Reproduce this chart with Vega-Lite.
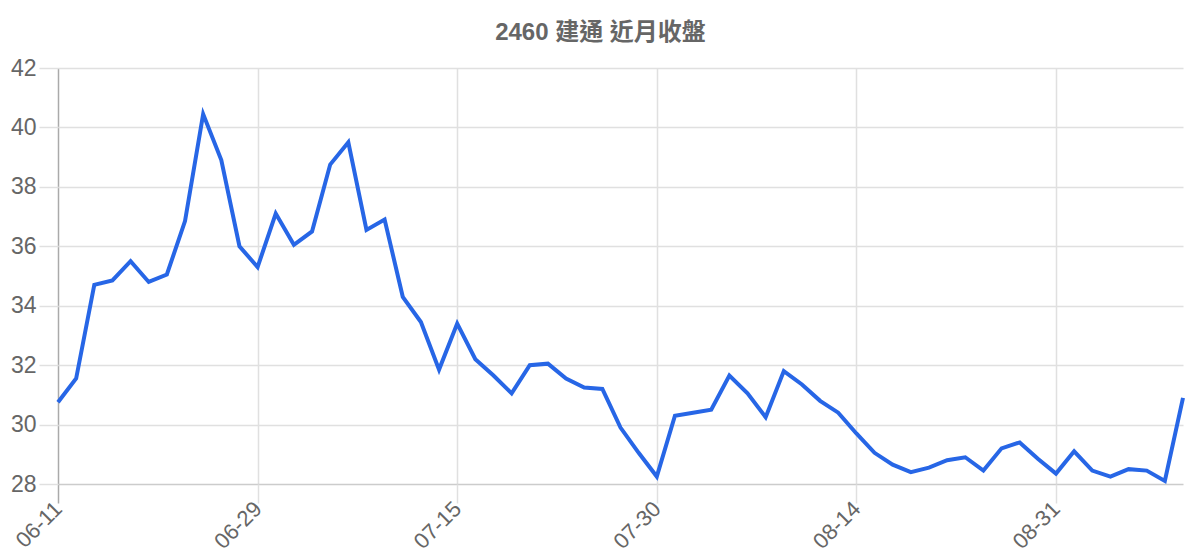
{
  "$schema": "https://vega.github.io/schema/vega-lite/v6.json",
  "autosize": "none",
  "width": 1125,
  "height": 416,
  "padding": {"left": 58, "top": 68, "right": 17, "bottom": 76},
  "background": "white",
  "title": {
    "text": "2460 建通 近月收盤",
    "font": "Liberation Sans, Noto Sans CJK TC",
    "fontSize": 24,
    "fontWeight": "bold",
    "color": "#666666",
    "anchor": "middle",
    "dx": -20,
    "offset": 12
  },
  "config": {
    "view": {"stroke": null},
    "font": "Liberation Sans, Noto Sans CJK TC"
  },
  "data": {
    "values": [
      {"date": "06-11", "close": 30.75},
      {"date": "06-12", "close": 31.55},
      {"date": "06-13", "close": 34.7},
      {"date": "06-14", "close": 34.85},
      {"date": "06-17", "close": 35.5},
      {"date": "06-18", "close": 34.8},
      {"date": "06-19", "close": 35.05},
      {"date": "06-20", "close": 36.85},
      {"date": "06-21", "close": 40.45},
      {"date": "06-24", "close": 38.9},
      {"date": "06-26", "close": 36.0},
      {"date": "06-29", "close": 35.3},
      {"date": "07-01", "close": 37.1},
      {"date": "07-02", "close": 36.05},
      {"date": "07-03", "close": 36.5},
      {"date": "07-04", "close": 38.75},
      {"date": "07-05", "close": 39.5},
      {"date": "07-08", "close": 36.55},
      {"date": "07-09", "close": 36.9},
      {"date": "07-10", "close": 34.3},
      {"date": "07-11", "close": 33.45},
      {"date": "07-12", "close": 31.85},
      {"date": "07-15", "close": 33.4},
      {"date": "07-16", "close": 32.2},
      {"date": "07-17", "close": 31.65},
      {"date": "07-18", "close": 31.05},
      {"date": "07-19", "close": 32.0},
      {"date": "07-22", "close": 32.05},
      {"date": "07-23", "close": 31.55},
      {"date": "07-24", "close": 31.25},
      {"date": "07-25", "close": 31.2},
      {"date": "07-26", "close": 29.9},
      {"date": "07-29", "close": 29.05},
      {"date": "07-30", "close": 28.25},
      {"date": "07-31", "close": 30.3},
      {"date": "08-01", "close": 30.4},
      {"date": "08-02", "close": 30.5},
      {"date": "08-05", "close": 31.65},
      {"date": "08-06", "close": 31.05},
      {"date": "08-07", "close": 30.25},
      {"date": "08-08", "close": 31.8},
      {"date": "08-09", "close": 31.35},
      {"date": "08-12", "close": 30.8},
      {"date": "08-13", "close": 30.4},
      {"date": "08-14", "close": 29.7},
      {"date": "08-15", "close": 29.05},
      {"date": "08-16", "close": 28.65},
      {"date": "08-19", "close": 28.4},
      {"date": "08-20", "close": 28.55},
      {"date": "08-21", "close": 28.8},
      {"date": "08-22", "close": 28.9},
      {"date": "08-23", "close": 28.45},
      {"date": "08-26", "close": 29.2},
      {"date": "08-27", "close": 29.4},
      {"date": "08-29", "close": 28.85},
      {"date": "08-31", "close": 28.35},
      {"date": "09-02", "close": 29.1},
      {"date": "09-03", "close": 28.45},
      {"date": "09-04", "close": 28.25},
      {"date": "09-05", "close": 28.5},
      {"date": "09-06", "close": 28.45},
      {"date": "09-09", "close": 28.1},
      {"date": "09-10", "close": 30.9}
    ]
  },
  "mark": {"type": "line", "color": "#2766e6", "strokeWidth": 4, "strokeJoin": "miter"},
  "encoding": {
    "x": {
      "field": "date",
      "type": "ordinal",
      "sort": null,
      "scale": {"type": "point", "padding": 0},
      "axis": {
        "title": null,
        "values": ["06-11", "06-29", "07-15", "07-30", "08-14", "08-31"],
        "grid": true,
        "gridColor": {"condition": {"test": "datum.value === '06-11'", "value": "#aaaaaa"}, "value": "#e0e0e0"},
        "gridWidth": 1.5,
        "domain": false,
        "ticks": true,
        "tickColor": {"condition": {"test": "datum.value === '06-11'", "value": "#aaaaaa"}, "value": "#e0e0e0"},
        "tickWidth": 1.5,
        "tickSize": 19,
        "labelAngle": -45,
        "labelAlign": "right",
        "labelBaseline": "middle",
        "labelPadding": 2,
        "labelFontSize": 22,
        "labelColor": "#666666"
      }
    },
    "y": {
      "field": "close",
      "type": "quantitative",
      "scale": {"domain": [28, 42], "nice": false, "zero": false},
      "axis": {
        "title": null,
        "values": [28, 30, 32, 34, 36, 38, 40, 42],
        "grid": true,
        "gridColor": {"condition": {"test": "datum.value === 28", "value": "#cccccc"}, "value": "#e0e0e0"},
        "gridWidth": 1.5,
        "domain": false,
        "tickColor": "#e0e0e0",
        "tickWidth": 1.5,
        "tickSize": 19,
        "labelPadding": 3,
        "labelFontSize": 23,
        "labelColor": "#666666"
      }
    }
  }
}
